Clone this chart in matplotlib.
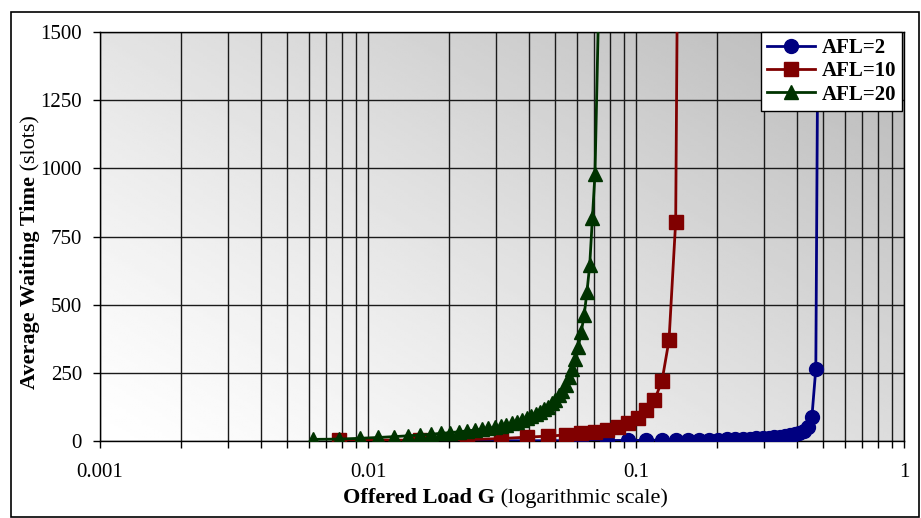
import numpy as np
import matplotlib
matplotlib.use("Agg")
import matplotlib.pyplot as plt
from matplotlib.patches import Rectangle
from matplotlib.ticker import FixedLocator, NullFormatter, LogLocator

plt.rcParams['font.family'] = ['Liberation Serif', 'DejaVu Serif']

# offered load G and average waiting time (slots)
g_afl2 = [1/64, 2/64, 3/64, 4/64, 5/64, 6/64, 7/64, 8/64, 9/64, 10/64,
          11/64, 12/64, 13/64, 14/64, 15/64, 16/64, 17/64, 18/64, 19/64, 20/64,
          21/64, 22/64, 23/64, 24/64, 25/64, 26/64, 27/64, 28/64, 29/64, 30/64]
w_afl2 = [0.5, 1, 1, 1.5, 2, 2, 2.5, 3, 3.5, 4,
          4.5, 5, 5.5, 6, 7, 8, 9, 10, 11, 12,
          14, 16, 18, 21, 25, 30, 38, 52, 87, 265]
g_afl2_tail = [30/64, 0.479]
w_afl2_tail = [265, 1800]

g_afl10 = [k/128 for k in range(1, 19)]
w_afl10 = [4, 3, 5, 9, 14, 18, 22, 28, 33, 40,
           50, 65, 85, 112, 150, 220, 370, 805]
g_afl10_tail = [18/128, 0.143]
w_afl10_tail = [805, 1800]

g_afl20 = [k/640 for k in range(4, 47)]
w_afl20 = [6, 7, 10, 13, 16, 19, 22, 25, 28, 31,
           34, 37, 40, 43, 46, 50, 55, 60, 65, 71,
           77, 84, 91, 99, 107, 116, 126, 138, 152, 167,
           185, 205, 233, 265, 300, 346, 401, 462, 548, 645,
           817, 981]
g_afl20 = g_afl20[:len(w_afl20)]
g_afl20_tail = [g_afl20[-1], 0.0733]
w_afl20_tail = [981, 1800]

x_ticks = [0.001, 0.01, 0.1, 1]
x_tick_labels = ['0.001', '0.01', '0.1', '1']
y_ticks = [0, 250, 500, 750, 1000, 1250, 1500]

W, H = 921, 518
fig = plt.figure(figsize=(W / 100, H / 100), dpi=100)
ax = fig.add_axes([100/W, 1 - 441/H, 804/W, 409/H])

# gradient background of the plot area
u, v = np.meshgrid(np.linspace(0, 1, 200), np.linspace(0, 1, 200))
shade = 1.0 - 0.28 * ((0.55 * u + 0.45 * v) ** 1.2)
ax.imshow(shade, extent=[0, 1, 0, 1], origin='lower', transform=ax.transAxes,
          cmap='gray', vmin=0, vmax=1, aspect='auto', zorder=0)

ax.set_xscale('log')
ax.set_xlim(0.001, 1)
ax.set_ylim(0, 1500)

colors = {'AFL=2': '#000080', 'AFL=10': '#800000', 'AFL=20': '#003300'}
lw = 2
ax.plot(g_afl2_tail, w_afl2_tail, color=colors['AFL=2'], lw=lw, zorder=3)
ax.plot(g_afl10_tail, w_afl10_tail, color=colors['AFL=10'], lw=lw, zorder=3)
ax.plot(g_afl20_tail, w_afl20_tail, color=colors['AFL=20'], lw=lw, zorder=3)
ax.plot(g_afl2, w_afl2, color=colors['AFL=2'], lw=lw, marker='o', markersize=10, label='AFL=2', zorder=4)
ax.plot(g_afl10, w_afl10, color=colors['AFL=10'], lw=lw, marker='s', markersize=9.5, label='AFL=10', zorder=4)
ax.plot(g_afl20, w_afl20, color=colors['AFL=20'], lw=lw, marker='^', markersize=10.5, label='AFL=20', zorder=5)

ax.xaxis.set_major_locator(FixedLocator(x_ticks))
ax.set_xticklabels(x_tick_labels)
ax.xaxis.set_minor_locator(LogLocator(base=10, subs=np.arange(2, 10)))
ax.xaxis.set_minor_formatter(NullFormatter())
ax.set_yticks(y_ticks)
ax.set_yticklabels([str(t) for t in y_ticks])
ax.tick_params(axis='both', which='major', direction='out', length=5, width=1,
               labelsize=15, pad=8, color='black')
ax.tick_params(axis='x', which='minor', direction='out', length=5, width=1, color='black')
ax.tick_params(axis='x', which='major', pad=11)

ax.grid(True, which='both', axis='x', color='#1a1a1a', lw=1)
ax.grid(True, which='major', axis='y', color='#1a1a1a', lw=1)
for s in ax.spines.values():
    s.set_color('black')
    s.set_linewidth(1)

# axis titles: bold part followed by a normal part
renderer = fig.canvas.get_renderer()
xb = fig.text(0, 0, 'Offered Load G', fontsize=16, weight='bold', va='baseline')
xn = fig.text(0, 0, ' (logarithmic scale)', fontsize=16, va='baseline')
wb = xb.get_window_extent(renderer).width
wn = xn.get_window_extent(renderer).width
x0 = 505 - (wb + wn) / 2
xb.set_position((x0 / W, 1 - 503 / H))
xn.set_position(((x0 + wb) / W, 1 - 503 / H))

yb = fig.text(0, 0, 'Average Waiting Time', fontsize=16, weight='bold',
              rotation=90, va='bottom', ha='left', rotation_mode='anchor')
yn = fig.text(0, 0, ' (slots)', fontsize=16, rotation=90, va='bottom', ha='left',
              rotation_mode='anchor')
hb = yb.get_window_extent(renderer).height
hn = yn.get_window_extent(renderer).height
y0 = 252 + (hb + hn) / 2
yb.set_position((40 / W, 1 - y0 / H))
yn.set_position((40 / W, 1 - (y0 - hb) / H))

leg = ax.legend(loc='upper right', bbox_to_anchor=(0.998, 1.0), borderaxespad=0,
                fancybox=False, framealpha=1, edgecolor='black', handlelength=2.3,
                labelspacing=0.15, borderpad=0.3, handletextpad=0.3,
                prop={'family': 'Liberation Serif', 'weight': 'bold', 'size': 15})
leg.get_frame().set_linewidth(1)
leg.set_zorder(10)

fig.patches.append(Rectangle((11/W, 1 - 517/H), 908/W, 505/H,
                             transform=fig.transFigure, fill=False,
                             edgecolor='black', lw=1.2))

fig.savefig('out.png', dpi=100)
